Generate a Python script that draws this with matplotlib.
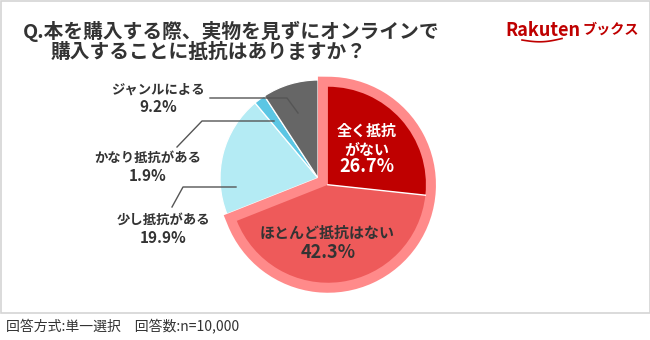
import numpy as np
import matplotlib.pyplot as plt
from matplotlib.patches import Wedge, Rectangle

plt.rcParams['font.family'] = ['Noto Sans CJK JP', 'DejaVu Sans']

# 回答データ（全く抵抗がない → ジャンルによる の順、時計回り）
labels = ['全く抵抗\nがない', 'ほとんど抵抗はない', '少し抵抗がある', 'かなり抵抗がある', 'ジャンルによる']
values = [26.7, 42.3, 19.9, 1.9, 9.2]
colors = ['#bf0000', '#ee5a5a', '#b4ebf4', '#5cc6e4', '#666666']

title1 = 'Q.本を購入する際、実物を見ずにオンラインで'
title2 = '購入することに抵抗はありますか？'
note = '回答方式:単一選択　回答数:n=10,000'

W, H = 650, 340
TXT = '#333333'
PINK = '#ff8a8a'

fig = plt.figure(figsize=(W / 100, H / 100), dpi=100)
ax = fig.add_axes([0, 0, 1, 1])

def Y(y):
    # 上からのピクセル位置 → データ座標
    return H - y

cx, cy, R = 318, Y(178), 98

wedges, _ = ax.pie(values, colors=colors, startangle=90, counterclock=False,
                   radius=R, center=(cx, cy),
                   wedgeprops=dict(edgecolor='white', linewidth=0.9))

# 抵抗がない2項目をまとめて外側へずらす
frac = np.cumsum([0] + values) / sum(values)
ang = 90 - 360 * frac
grp_mid = np.deg2rad((ang[0] + ang[2]) / 2)
shift = 12
sx, sy = cx + shift * np.cos(grp_mid), cy + shift * np.sin(grp_mid)

outline = Wedge((sx, sy), R, ang[2], ang[0], facecolor=PINK, edgecolor=PINK,
                linewidth=14.4, joinstyle='miter', zorder=2)
ax.add_patch(outline)
for w in wedges[:2]:
    w.set_center((sx, sy))
    w.set_linewidth(0)
    w.set_zorder(3)
# 2項目の境界線
t = np.deg2rad(ang[1])
ax.plot([sx, sx + R * np.cos(t)], [sy, sy + R * np.sin(t)], color='white', lw=1, zorder=4)

# スライス内のラベル
ax.text(367, Y(140), labels[0], color='white', fontsize=10.8, fontweight='bold',
        ha='center', va='center', linespacing=1.25, zorder=5)
ax.text(367, Y(167), f'{values[0]}%', color='white', fontsize=13, fontweight='bold',
        ha='center', va='center', zorder=5)
ax.text(327, Y(233), labels[1], color=TXT, fontsize=10.8, fontweight='bold',
        ha='center', va='center', zorder=5)
ax.text(328, Y(253), f'{values[1]}%', color=TXT, fontsize=13, fontweight='bold',
        ha='center', va='center', zorder=5)

# 引き出し線つきラベル
leaders = [
    ([(210, 98), (287, 98), (298, 113)], (158, 90), (158, 107), 4),
    ([(274, 121), (202, 121), (177, 147)], (148, 158), (148, 176), 3),
    ([(236, 187), (183, 187), (172, 207)], (163, 220), (163, 238), 2),
]
for pts, lpos, vpos, i in leaders:
    xs = [p[0] for p in pts]
    ys = [Y(p[1]) for p in pts]
    ax.plot(xs, ys, color='#555555', lw=1, zorder=6)
    ax.text(lpos[0], Y(lpos[1]), labels[i], color=TXT, fontsize=9.6, fontweight='bold',
            ha='center', va='center')
    ax.text(vpos[0], Y(vpos[1]), f'{values[i]}%', color=TXT, fontsize=11, fontweight='bold',
            ha='center', va='center')

# タイトル
ax.text(23, Y(31), title1, color=TXT, fontsize=14.2, fontweight='bold', ha='left', va='center')
ax.text(51, Y(52), title2, color=TXT, fontsize=14.2, fontweight='bold', ha='left', va='center')

# ロゴ
ax.text(505, Y(30), 'Rakuten', color='#bf0000', fontsize=13, fontweight='bold',
        ha='left', va='center')
ax.text(583, Y(30), 'ブックス', color='#bf0000', fontsize=10.2, fontweight='bold',
        ha='left', va='center')
u = np.linspace(0, 1, 30)
ax.plot(522 + 40 * u, Y(40 + 2.5 * np.sin(np.pi * u) - 1.5 * u), color='#bf0000', lw=1.2)

# 枠と注記
ax.add_patch(Rectangle((0.5, Y(313)), W - 1, 312.5, facecolor='none',
                       edgecolor='#d4d4d4', lw=1.2, zorder=0))
ax.text(6, Y(327), note, color=TXT, fontsize=10, ha='left', va='center')

ax.set_xlim(0, W)
ax.set_ylim(0, H)
ax.set_aspect('equal')
ax.axis('off')

fig.savefig('out.png', dpi=100, facecolor='white')
